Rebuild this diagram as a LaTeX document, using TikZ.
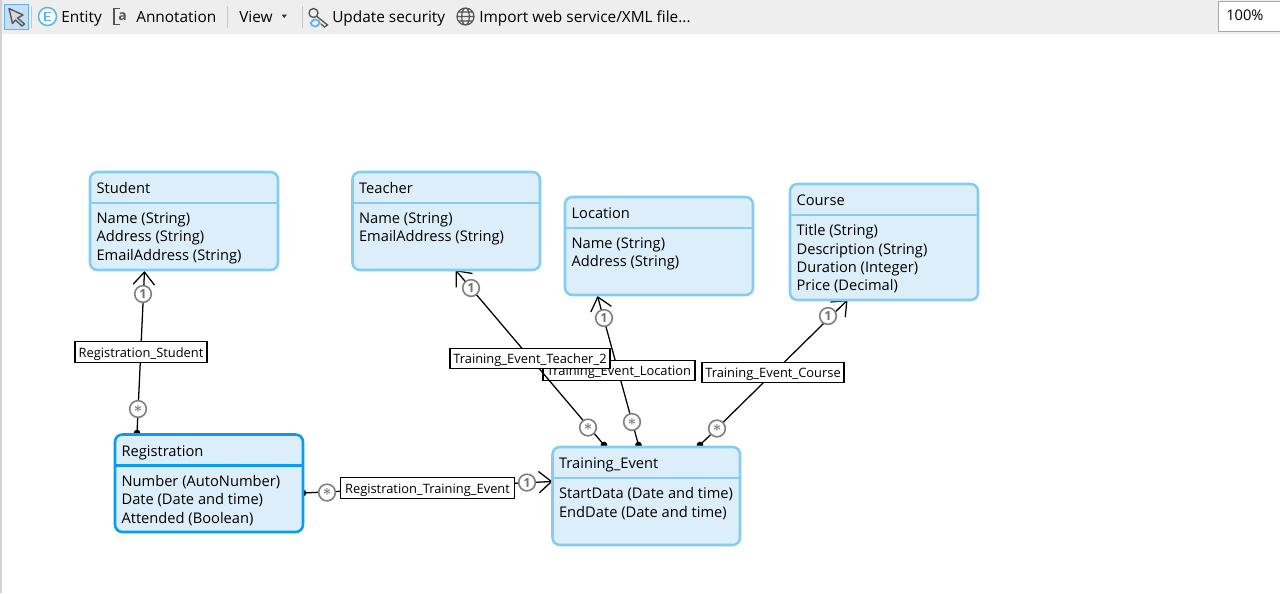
\documentclass[tikz,border=0pt]{standalone}
\usepackage{fontspec}
\usepackage{amsmath,amssymb,bm}
\setmainfont{Open Sans}
\usetikzlibrary{arrows.meta}
\definecolor{efill}{HTML}{DBEEFA}
\definecolor{eline}{HTML}{85CCF0}
\definecolor{eselect}{HTML}{0A9BEE}
\definecolor{barbg}{HTML}{EEEEEE}
\definecolor{multgray}{HTML}{808080}
\definecolor{selfill}{HTML}{C4E0F8}
\definecolor{selline}{HTML}{6AAEE5}
\definecolor{iconblue}{HTML}{5AB4F0}
\definecolor{icongray}{HTML}{555555}
\pgfdeclarelayer{top}
\pgfsetlayers{main,top}
\tikzset{
  x=0.75pt,y=-0.75pt,
  uitext/.style={font=\fontsize{11}{13.75}\selectfont,inner sep=0pt},
  titletext/.style={uitext,text height=8.2pt,text depth=0pt},
  bartext/.style={font=\fontsize{11.55}{14}\selectfont,inner sep=0pt,text height=8.6pt,text depth=0pt},
  ebox/.style={draw=eline,fill=efill,line width=1.9pt,rounded corners=5.5pt,inner sep=0pt},
  eselected/.style={draw=eselect},
  link/.style={draw=black,line width=0.95pt},
  arrowlink/.style={link,-{Straight Barb[length=9.5pt,width=16pt,line width=0.95pt]}},
  srcdot/.style={fill=black,circle,inner sep=0pt,minimum size=5pt},
  linklabel/.style={draw=black,fill=white,line width=0.9pt,inner sep=0pt,font=\fontsize{9.67}{12}\selectfont,minimum height=15.5pt,text height=8.7pt,text depth=0.6pt},
  mult/.style={draw=multgray,fill=white,circle,line width=1.2pt,minimum size=12.5pt,inner sep=0pt,text=black!55,font=\fontsize{9.5}{10}\bfseries\selectfont},
  sepline/.style={draw=black!22,line width=0.7pt},
}
% name, x1, y1, x2, y2, header y, title, attributes, extra style
\newcommand{\entitybox}[9]{%
  \node[ebox,#9,minimum width={(#4-#2)*0.75pt},minimum height={(#5-#3)*0.75pt}] (#1) at ({(#2+#4)/2},{(#3+#5)/2}) {};
  \draw[draw=eline,line width=1.8pt,#9] (#2,#6) -- (#4,#6);
  \node[titletext,anchor=west] (#1-title) at (#2+6.3,{(#3+#6)/2+0.7}) {#7};
  \node[uitext,anchor=north west,align=left] (#1-attrs) at (#2+6.3,#6+9.5) {#8};
}
\newcommand{\manymark}{\raisebox{-0.5pt}{\fontsize{11}{11}\selectfont$\boldsymbol{\ast}$}}
\begin{document}
\begin{tikzpicture}
\useasboundingbox (0,0) rectangle (1280,593);
\fill[white] (0,0) rectangle (1280,593);
\fill[black!18] (0,34) rectangle (2,593);

\begin{pgfonlayer}{top}
  % toolbar
  \fill[barbg] (0,0) rectangle (1280,34);
  \fill[black!18] (0,0) rectangle (2,34);
  \draw[draw=selline,fill=selfill,line width=0.75pt] (4.5,4.5) rectangle (28.5,29);
  \draw[icongray,fill=black!15,line width=1.05pt,line join=round] (9,8.5) -- (23,15) -- (17.5,18) -- (24.5,24) -- (22,26) -- (15.5,20) -- (12.5,23.5) -- cycle;
  \draw[sepline] (31.5,6) -- (31.5,28);
  \draw[draw=iconblue,fill=white,line width=1.15pt] (47.5,16.5) circle (9);
  \draw[draw=iconblue,line width=1pt] (50.5,12.5) -- (45,12.5) -- (45,20.5) -- (50.5,20.5) (45,16.5) -- (49.5,16.5);
  \node[bartext,anchor=west] (entitytool) at (61,16.5) {Entity};
  \draw[icongray,line width=1.3pt] (120,8.5) -- (114,8.5) -- (114,24.5) -- (120,24.5);
  \node[inner sep=0pt,text=icongray,font=\fontsize{10.5}{12}\bfseries\selectfont] (annotationicon) at (122.5,16.5) {a};
  \node[bartext,anchor=west] (annotationtool) at (136,16.5) {Annotation};
  \draw[sepline] (227,6) -- (227,28);
  \node[bartext,anchor=west] (viewtool) at (239,16.5) {View};
  \fill[black!80] (281.5,14.5) -- (287,14.5) -- (284.2,18) -- cycle;
  \draw[sepline] (302.5,6) -- (302.5,28);
  \draw[icongray,line width=1pt] (313.5,13) circle (4.5) (317,16.5) -- (327.5,25) -- (324.5,27) -- (321,24);
  \draw[iconblue,line width=1.3pt] (310.5,22) arc (180:20:4.5) (320,24) arc (0:-160:4.5);
  \node[bartext,anchor=west] (updatetool) at (332,16.5) {Update security};
  \draw[icongray,line width=0.9pt] (465.5,16.5) circle (8.5)
     (465.5,16.5) ellipse (3.8 and 8.5) (457,16.5) -- (474,16.5) (458.5,12) -- (472.5,12) (458.5,21) -- (472.5,21);
  \node[bartext,anchor=west] (importtool) at (479,16.5) {Import web service/XML file...};
  \draw[draw=black!35,fill=white,line width=0.7pt] (1218.5,1.5) rectangle (1282,31);
  \node[uitext,anchor=west] (zoomlevel) at (1226,15.5) {100\%};

  % entities
  \entitybox{student}{90}{172}{278}{270}{203}{Student}{Name (String)\\Address (String)\\EmailAddress (String)}{}
  \entitybox{teacher}{352.5}{172}{540}{270}{203}{Teacher}{Name (String)\\EmailAddress (String)}{}
  \entitybox{location}{565}{197}{753}{295}{228}{Location}{Name (String)\\Address (String)}{}
  \entitybox{course}{790}{184}{978}{300}{215}{Course}{Title (String)\\Description (String)\\Duration (Integer)\\Price (Decimal)}{}
  \entitybox{registration}{115}{434.5}{303}{532}{465.5}{Registration}{Number (AutoNumber)\\Date (Date and time)\\Attended (Boolean)}{eselected}
  \entitybox{event}{552.5}{447}{740}{545}{478}{Training\_Event}{StartData (Date and time)\\EndDate (Date and time)}{}
\end{pgfonlayer}

% connector ends on the entity borders
\coordinate (rsA) at (137,433);   \coordinate (rsB) at (144.5,271);
\coordinate (teA) at (604,445);   \coordinate (teB) at (455.5,270);
\coordinate (leA) at (638.5,445); \coordinate (leB) at (597.5,296);
\coordinate (ceA) at (700,445);   \coordinate (ceB) at (847.5,300);
\coordinate (rtA) at (303,493);   \coordinate (rtB) at (552.5,481.5);

% Registration_Student
\node[srcdot] (rsdot) at (rsA) {};
\draw[arrowlink] (rsA) -- (rsB);
\node[linklabel,minimum width=99pt] (rslabel) at (141,352) {Registration\_Student};
\node[mult] (rsone) at (143,294) {1};
\node[mult] (rsmany) at (138,409) {\manymark};

% Registration_Training_Event
\node[srcdot] (rtdot) at (rtA) {};
\draw[arrowlink] (rtA) -- (rtB);
\node[linklabel,minimum width=130pt] (rtlabel) at (427.5,488) {Registration\_Training\_Event};
\node[mult] (rtone) at (527,482.5) {1};
\node[mult] (rtmany) at (327,492.5) {\manymark};

% Training_Event_Location
\node[srcdot] (ledot) at (leA) {};
\draw[arrowlink] (leA) -- (leB);
\node[linklabel,minimum width=114pt] (lelabel) at (619,370.5) {Training\_Event\_Location};
\node[mult] (leone) at (604,318) {1};
\node[mult] (lemany) at (632,422) {\manymark};

% Training_Event_Teacher_2
\node[srcdot] (tedot) at (teA) {};
\draw[arrowlink] (teA) -- (teB);
\node[linklabel,minimum width=120pt] (telabel) at (530,358.5) {Training\_Event\_Teacher\_2};
\node[mult] (teone) at (471,288) {1};
\node[mult] (temany) at (588,427.5) {\manymark};

% Training_Event_Course
\node[srcdot] (cedot) at (ceA) {};
\draw[arrowlink] (ceA) -- (ceB);
\node[linklabel,minimum width=106.5pt] (celabel) at (773,372.5) {Training\_Event\_Course};
\node[mult] (ceone) at (828,316) {1};
\node[mult] (cemany) at (717,428.5) {\manymark};
\end{tikzpicture}
\end{document}
